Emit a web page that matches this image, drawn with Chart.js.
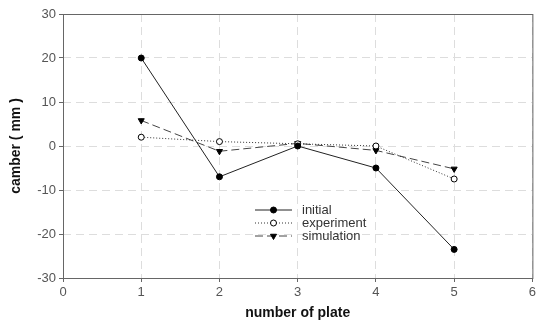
<!DOCTYPE html>
<html>
<head>
<meta charset="utf-8">
<script src="https://cdn.jsdelivr.net/npm/chart.js@4"></script>
<style>
  html, body { margin: 0; padding: 0; background: #fff; }
  #wrap { width: 539px; height: 326px; }
</style>
</head>
<body>
<div id="wrap"><canvas id="camberChart" width="539" height="326"></canvas></div>
<script>
// plate numbers and camber values (mm)
const plates = [1, 2, 3, 4, 5];
const initial = [20, -7, 0, -5, -23.5];
const experiment = [2, 1, 0.5, 0, -7.5];
const simulation = [5.8, -1.2, 0.6, -1, -5.2];
const xTicks = [0, 1, 2, 3, 4, 5, 6];
const yTicks = [-30, -20, -10, 0, 10, 20, 30];

const FONT = '"Liberation Sans", Arial, sans-serif';
const pts = arr => plates.map((p, i) => ({ x: p, y: arr[i] }));

// legend drawn inside the plot, lower middle
const innerLegend = {
  id: 'innerLegend',
  afterDatasetsDraw(chart) {
    const ctx = chart.ctx;
    const x0 = 255, x1 = 292, tx = 302;
    let y = 210;
    chart.data.datasets.forEach(ds => {
      ctx.save();
      ctx.strokeStyle = ds.borderColor;
      ctx.lineWidth = 1;
      ctx.setLineDash(ds.borderDash || []);
      ctx.beginPath();
      ctx.moveTo(x0, y);
      ctx.lineTo(x1, y);
      ctx.stroke();
      ctx.setLineDash([]);
      ctx.fillStyle = ds.pointBackgroundColor;
      ctx.strokeStyle = ds.pointBorderColor;
      Chart.helpers.drawPoint(ctx, {
        pointStyle: ds.pointStyle,
        rotation: ds.pointRotation || 0,
        radius: ds.pointRadius,
        borderWidth: 1
      }, (x0 + x1) / 2, y);
      ctx.fillStyle = '#333';
      ctx.font = '13px ' + FONT;
      ctx.textBaseline = 'middle';
      ctx.fillText(ds.label, tx, y);
      ctx.restore();
      y += 13;
    });
  }
};

// box around plot area
const frame = {
  id: 'frame',
  afterDraw(chart) {
    const a = chart.chartArea, ctx = chart.ctx;
    ctx.save();
    ctx.strokeStyle = '#666';
    ctx.lineWidth = 1;
    ctx.strokeRect(a.left + 0.5, a.top + 0.5, a.right - a.left, a.bottom - a.top);
    ctx.restore();
  }
};

new Chart(document.getElementById('camberChart').getContext('2d'), {
  type: 'scatter',
  data: {
    datasets: [{
      label: 'initial',
      data: pts(initial),
      showLine: true,
      borderColor: '#222',
      borderWidth: 1,
      pointStyle: 'circle',
      pointRadius: 3,
      pointBackgroundColor: '#000',
      pointBorderColor: '#000'
    }, {
      label: 'experiment',
      data: pts(experiment),
      showLine: true,
      borderColor: '#333',
      borderWidth: 1,
      borderDash: [1, 2],
      pointStyle: 'circle',
      pointRadius: 3,
      pointBackgroundColor: '#fff',
      pointBorderColor: '#000'
    }, {
      label: 'simulation',
      data: pts(simulation),
      showLine: true,
      borderColor: '#444',
      borderWidth: 1,
      borderDash: [8, 4],
      pointStyle: 'triangle',
      pointRotation: 180,
      pointRadius: 3.5,
      pointBackgroundColor: '#000',
      pointBorderColor: '#000'
    }]
  },
  options: {
    responsive: false,
    animation: false,
    layout: { padding: { top: 14, right: 3, left: 4, bottom: 0 } },
    plugins: { legend: { display: false }, tooltip: { enabled: false } },
    scales: {
      x: {
        type: 'linear', min: 0, max: 6,
        afterBuildTicks: s => { s.ticks = xTicks.map(v => ({ value: v })); },
        afterFit: s => { s.height = 48; },
        grid: { color: '#ddd', tickColor: '#666', tickLength: 4 },
        border: { display: false, dash: [8, 5] },
        ticks: { color: '#555', font: { size: 13, family: FONT }, padding: 3 },
        title: {
          display: true, text: 'number of plate', color: '#111',
          font: { size: 14, weight: 'bold', family: FONT },
          padding: { top: 6 }
        }
      },
      y: {
        min: -30, max: 30,
        afterBuildTicks: s => { s.ticks = yTicks.map(v => ({ value: v })); },
        afterFit: s => { s.width = 59; },
        grid: { color: '#ddd', tickColor: '#666', tickLength: 4 },
        border: { display: false, dash: [8, 5] },
        ticks: { color: '#555', font: { size: 13, family: FONT }, padding: 3 },
        title: {
          display: true, text: 'camber ( mm )', color: '#111',
          font: { size: 14, weight: 'bold', family: FONT },
          padding: { top: 4, bottom: 4 }
        }
      }
    }
  },
  plugins: [innerLegend, frame]
});
</script>
</body>
</html>
